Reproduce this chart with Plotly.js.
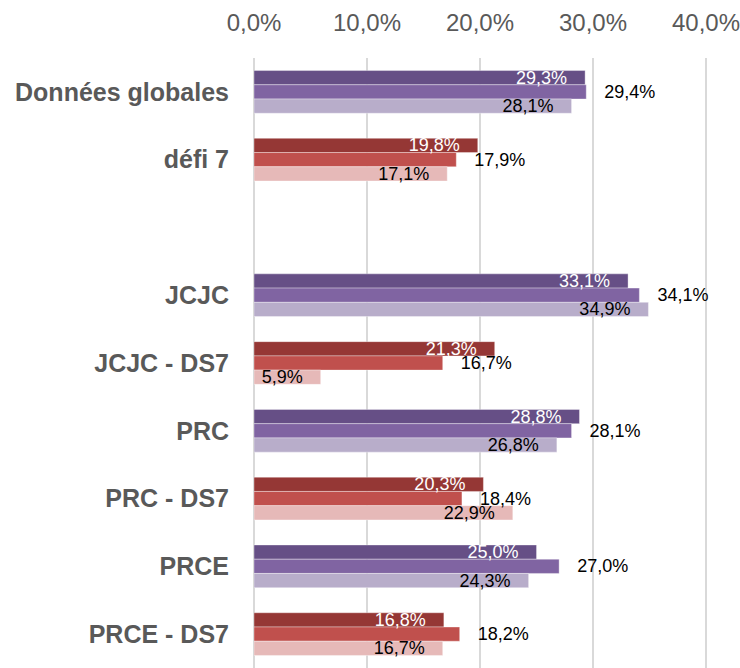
<!DOCTYPE html>
<html><head><meta charset="utf-8">
<script src="https://cdn.plot.ly/plotly-3.0.1.min.js"></script>
<style>html,body{margin:0;padding:0;background:#fff}</style>
</head><body><div id="chart" style="width:740px;height:668px"></div>
<script>
// ---- data ----
const categories = ["Données globales","défi 7"," ","JCJC","JCJC - DS7","PRC","PRC - DS7","PRCE","PRCE - DS7"];
const series1 = [0.293,0.198,null,0.331,0.213,0.288,0.203,0.250,0.168];
const series2 = [0.294,0.179,null,0.341,0.167,0.281,0.184,0.270,0.182];
const series3 = [0.281,0.171,null,0.349,0.059,0.268,0.229,0.243,0.167];
const groupType = ["violet","rouge","","violet","rouge","violet","rouge","violet","rouge"];
const tickVals = [0,0.1,0.2,0.3,0.4];
const tickText = ["0,0%","10,0%","20,0%","30,0%","40,0%"];

// ---- styles ----
const palette = {
  violet: ["#664F86","#8064A2","#B8ADCA"],
  rouge:  ["#953735","#C0504D","#E6B9B8"],
  "":     ["#fff","#fff","#fff"]
};
const narrow = "'Liberation Sans Narrow','Arial Narrow','Liberation Sans',Arial,sans-serif";
const wide = "'Liberation Sans',Arial,sans-serif";
const W = 0.21;
const offsets = [-1.5*W, -0.5*W, 0.5*W];
const seriesList = [series1, series2, series3];
const fmt = v => v == null ? "" : (v*100).toFixed(1).replace(".", ",") + "%";
const nb = "\u00a0";

const traces = [];
seriesList.forEach((s, k) => {
  traces.push({
    type: "bar", orientation: "h", y: categories, x: s,
    offset: offsets[k], width: W,
    marker: {color: groupType.map(g => palette[g][k]), line: {color: "rgba(255,255,255,0.6)", width: 0.6}},
    hoverinfo: "skip", showlegend: false
  });
});
// label layers on top
const labelCfg = [
  {pos: "inside", color: "#FFFFFF", txt: v => v == null ? "" : fmt(v) + nb + nb + nb},
  {pos: "outside", color: "#000000", txt: v => v == null ? "" : nb + nb + nb + fmt(v)},
  {pos: "inside", color: "#000000", txt: v => v == null ? "" : fmt(v) + nb + nb + nb}
];
seriesList.forEach((s, k) => {
  const c = labelCfg[k];
  traces.push({
    type: "bar", orientation: "h", y: categories, x: s,
    offset: offsets[k], width: W,
    marker: {color: "rgba(0,0,0,0)"},
    text: s.map(c.txt), textposition: c.pos, insidetextanchor: "end",
    constraintext: "none", textangle: 0, cliponaxis: false,
    textfont: {family: narrow, size: 18, color: c.color},
    insidetextfont: {family: narrow, size: 18, color: c.color},
    outsidetextfont: {family: narrow, size: 18, color: c.color},
    hoverinfo: "skip", showlegend: false
  });
});

const layout = {
  width: 740, height: 668,
  margin: {l: 254, r: 30, t: 58, b: 0, pad: 0},
  paper_bgcolor: "#fff", plot_bgcolor: "#fff",
  barmode: "overlay",
  showlegend: false,
  xaxis: {
    side: "top", range: [0, 0.4035], tickvals: tickVals, ticktext: tickText,
    showgrid: true, gridcolor: "#D9D9D9", gridwidth: 1.5,
    zeroline: true, zerolinecolor: "#D9D9D9", zerolinewidth: 1.5,
    showline: false, ticks: "", ticklabelstandoff: 21, ticklabeloverflow: "allow",
    tickfont: {family: narrow, size: 24, color: "#595959"}, fixedrange: true
  },
  yaxis: {
    type: "category", autorange: "reversed",
    showgrid: false, zeroline: false, showline: false, ticks: "",
    ticklabelstandoff: 24,
    tickfont: {family: wide, size: 25, weight: "bold", color: "#595959"}, fixedrange: true
  }
};
Plotly.newPlot("chart", traces, layout, {displayModeBar: false, staticPlot: true});
</script></body></html>
